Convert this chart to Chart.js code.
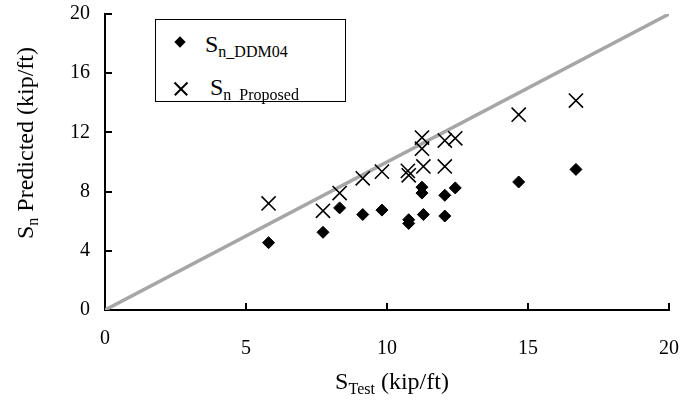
<!DOCTYPE html>
<html>
<head>
<meta charset="utf-8">
<script src="https://cdn.jsdelivr.net/npm/chart.js@4/dist/chart.umd.min.js"></script>
<style>
  body { margin: 0; background: #fff; }
  #wrap { position: relative; width: 682px; height: 400px; font-family: "Liberation Serif", "Times New Roman", serif; color: #000; }
  #chart { position: absolute; left: 0; top: 0; }
  .title { position: absolute; font-size: 24px; white-space: nowrap; line-height: 1; }
  .title sub, .legend sub { font-size: 16px; vertical-align: baseline; position: relative; top: 5px; }
  #ytitle { left: 25px; top: 143px; transform: translate(-50%, -50%) rotate(-90deg); }
  #xtitle { left: 392px; top: 381px; transform: translate(-50%, -50%); }
  #legend { position: absolute; left: 155px; top: 19px; width: 189px; height: 81px; border: 1.5px solid #000; background: #fff; }
  .legend { position: absolute; font-size: 24px; white-space: nowrap; line-height: 1; }
  .diamond { position: absolute; width: 8px; height: 8px; background: #000; transform: rotate(45deg); }
  .cross { position: absolute; width: 14px; height: 14px; }
  .cross:before, .cross:after { content: ""; position: absolute; left: -2px; top: 6px; width: 18px; height: 1.6px; background: #000; }
  .cross:before { transform: rotate(45deg); }
  .cross:after { transform: rotate(-45deg); }
</style>
</head>
<body>
<div id="wrap">
  <canvas id="chart" width="682" height="400"></canvas>
  <div class="title" id="ytitle">S<sub>n</sub> Predicted (kip/ft)</div>
  <div class="title" id="xtitle">S<sub>Test</sub> (kip/ft)</div>
  <div id="legend">
    <span class="diamond" style="left:20px; top:18px;"></span>
    <div class="legend" style="left:49px; top:12px;">S<sub>n_DDM04</sub></div>
    <span class="cross" style="left:18px; top:62px;"></span>
    <div class="legend" style="left:54px; top:55px;">S<sub>n_Proposed</sub></div>
  </div>
</div>
<script>
// 實測值 S_Test (kip/ft)
const testX = [5.8, 7.73, 8.32, 9.14, 9.82, 10.77, 10.77, 11.24, 11.24, 11.29, 12.05, 12.05, 12.42, 14.67, 16.7];
// DDM04 預測值
const ddm04Y = [4.55, 5.25, 6.9, 6.45, 6.75, 6.1, 5.85, 8.3, 7.9, 6.45, 7.75, 6.35, 8.25, 8.65, 9.5];
// 建議方法預測值 (x 與上面不完全相同)
const proposedX = [5.8, 7.73, 8.32, 9.14, 9.82, 10.74, 10.77, 11.24, 11.24, 11.29, 12.05, 12.05, 12.42, 14.67, 16.7];
const proposedY = [7.2, 6.7, 7.9, 8.9, 9.35, 9.4, 9.1, 11.65, 10.9, 9.7, 11.45, 9.7, 11.6, 13.2, 14.15];
// 1:1 參考線
const refLine = [0, 20];
// 刻度
const xTicks = [0, 5, 10, 15, 20];
const yTicks = [0, 4, 8, 12, 16, 20];

const serif = '"Liberation Serif", "Times New Roman", serif';

function pts(xs, ys) {
    return xs.map((x, i) => ({ x: x, y: ys[i] }));
}

// 刻度線畫在軸內側 (Excel 風格)
const innerTicks = {
    id: 'innerTicks',
    afterDraw(chart) {
        const ctx = chart.ctx;
        const a = chart.chartArea;
        const xs = chart.scales.x, ys = chart.scales.y;
        ctx.save();
        ctx.strokeStyle = '#000';
        ctx.lineWidth = 2;
        ctx.beginPath();
        xTicks.forEach(v => {
            if (v === 0) return;
            const px = Math.round(xs.getPixelForValue(v));
            ctx.moveTo(px, a.bottom);
            ctx.lineTo(px, a.bottom - 7);
        });
        yTicks.forEach(v => {
            if (v === 0) return;
            const py = Math.round(ys.getPixelForValue(v));
            ctx.moveTo(a.left, py);
            ctx.lineTo(a.left + 7, py);
        });
        ctx.stroke();
        ctx.restore();
    }
};

new Chart(document.getElementById('chart'), {
    type: 'scatter',
    data: {
        datasets: [
            {
                label: 'Sn_DDM04',
                data: pts(testX, ddm04Y),
                pointStyle: 'rectRot',
                pointRadius: 6,
                backgroundColor: '#000',
                borderColor: '#000',
                borderWidth: 1
            },
            {
                label: 'Sn_Proposed',
                data: pts(proposedX, proposedY),
                pointStyle: 'crossRot',
                pointRadius: 10,
                borderColor: '#000',
                borderWidth: 1.6
            },
            {
                label: '1:1',
                data: pts(refLine, refLine),
                showLine: true,
                borderColor: '#a6a6a6',
                borderWidth: 3.5,
                pointRadius: 0
            }
        ]
    },
    options: {
        responsive: false,
        animation: false,
        layout: { padding: { top: 14, right: 13, left: 0, bottom: 0 } },
        plugins: {
            legend: { display: false },
            tooltip: { enabled: false }
        },
        scales: {
            x: {
                type: 'linear',
                min: 0,
                max: 20,
                afterBuildTicks: s => { s.ticks = xTicks.map(v => ({ value: v })); },
                afterFit: s => { s.height = 90; s.paddingLeft = 0; s.paddingRight = 0; },
                border: { color: '#000', width: 2 },
                grid: { drawOnChartArea: false, drawTicks: false },
                ticks: {
                    color: '#000',
                    padding: 24,
                    font: { family: serif, size: 20, lineHeight: 0.5 },
                    callback: v => v === 0 ? '0' : ['', String(v)]
                }
            },
            y: {
                type: 'linear',
                min: 0,
                max: 20,
                afterBuildTicks: s => { s.ticks = yTicks.map(v => ({ value: v })); },
                afterFit: s => { s.width = 105; s.paddingTop = 0; s.paddingBottom = 0; },
                border: { color: '#000', width: 2 },
                grid: { drawOnChartArea: false, drawTicks: false },
                ticks: {
                    color: '#000',
                    padding: 15,
                    font: { family: serif, size: 20 }
                }
            }
        }
    },
    plugins: [innerTicks]
});
</script>
</body>
</html>
